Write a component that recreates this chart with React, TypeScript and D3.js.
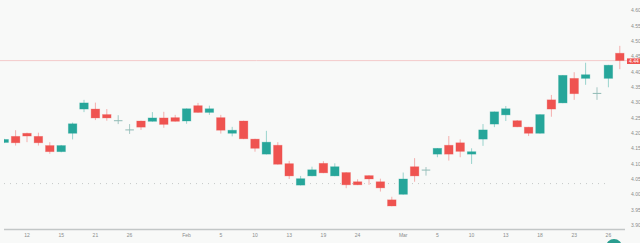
import React from "react";
import * as d3 from "d3";

// Daily sessions, Jan 8 – Mar 27
const dates = [
  "2026-01-08", "2026-01-09", "2026-01-12", "2026-01-13", "2026-01-14", "2026-01-15", "2026-01-16",
  "2026-01-20", "2026-01-21", "2026-01-22", "2026-01-23", "2026-01-26", "2026-01-27", "2026-01-28",
  "2026-01-29", "2026-01-30", "2026-02-02", "2026-02-03", "2026-02-04", "2026-02-05", "2026-02-06",
  "2026-02-09", "2026-02-10", "2026-02-11", "2026-02-12", "2026-02-13", "2026-02-17", "2026-02-18",
  "2026-02-19", "2026-02-20", "2026-02-23", "2026-02-24", "2026-02-25", "2026-02-26", "2026-02-27",
  "2026-03-02", "2026-03-03", "2026-03-04", "2026-03-05", "2026-03-06", "2026-03-09", "2026-03-10",
  "2026-03-11", "2026-03-12", "2026-03-13", "2026-03-16", "2026-03-17", "2026-03-18", "2026-03-19",
  "2026-03-20", "2026-03-23", "2026-03-24", "2026-03-25", "2026-03-26", "2026-03-27",
];

const opens = [
  4.170, 4.190, 4.200, 4.190, 4.160, 4.140, 4.200, 4.279, 4.279, 4.261, 4.241, 4.211, 4.240, 4.239,
  4.250, 4.251, 4.240, 4.290, 4.268, 4.251, 4.200, 4.240, 4.181, 4.132, 4.161, 4.101, 4.031, 4.061,
  4.102, 4.061, 4.072, 4.042, 4.062, 4.042, 3.983, 4.001, 4.091, 4.080, 4.132, 4.161, 4.169, 4.132,
  4.181, 4.230, 4.260, 4.241, 4.220, 4.200, 4.309, 4.299, 4.379, 4.379, 4.330, 4.379, 4.461,
];
const highs = [
  4.182, 4.210, 4.202, 4.202, 4.171, 4.162, 4.235, 4.309, 4.300, 4.279, 4.259, 4.230, 4.241, 4.269,
  4.270, 4.260, 4.281, 4.299, 4.290, 4.260, 4.221, 4.241, 4.182, 4.208, 4.171, 4.110, 4.061, 4.091,
  4.109, 4.102, 4.073, 4.050, 4.063, 4.052, 3.993, 4.072, 4.119, 4.090, 4.152, 4.191, 4.180, 4.151,
  4.230, 4.271, 4.289, 4.243, 4.221, 4.262, 4.325, 4.390, 4.399, 4.430, 4.350, 4.423, 4.485,
];
const lows = [
  4.168, 4.160, 4.171, 4.160, 4.133, 4.138, 4.180, 4.269, 4.243, 4.241, 4.230, 4.198, 4.211, 4.238,
  4.218, 4.238, 4.231, 4.267, 4.260, 4.199, 4.190, 4.181, 4.140, 4.131, 4.098, 4.051, 4.030, 4.060,
  4.070, 4.060, 4.021, 4.031, 4.032, 4.010, 3.962, 4.000, 4.042, 4.062, 4.122, 4.111, 4.122, 4.100,
  4.159, 4.220, 4.240, 4.220, 4.191, 4.199, 4.254, 4.298, 4.309, 4.358, 4.309, 4.350, 4.409,
];
const closes = [
  4.180, 4.169, 4.191, 4.169, 4.140, 4.160, 4.231, 4.299, 4.250, 4.250, 4.241, 4.211, 4.220, 4.250,
  4.229, 4.239, 4.280, 4.268, 4.280, 4.210, 4.210, 4.182, 4.151, 4.171, 4.099, 4.061, 4.052, 4.081,
  4.071, 4.091, 4.032, 4.032, 4.051, 4.022, 3.963, 4.051, 4.061, 4.080, 4.151, 4.132, 4.141, 4.140,
  4.211, 4.270, 4.280, 4.221, 4.200, 4.261, 4.279, 4.389, 4.329, 4.391, 4.330, 4.422, 4.437,
];

// Bottom axis labels: first session of a month shows the month name
const xTickDates = [
  "2026-01-12", "2026-01-15", "2026-01-21", "2026-01-26", "2026-02-02", "2026-02-05", "2026-02-10",
  "2026-02-13", "2026-02-19", "2026-02-24", "2026-03-02", "2026-03-05", "2026-03-10", "2026-03-13",
  "2026-03-18", "2026-03-23", "2026-03-26",
];
const xTickLabels = [
  "12", "15", "21", "26", "Feb", "5", "10", "13", "19", "24", "Mar", "5", "10", "13", "18", "23", "26",
];

const yTicks = [3.9, 3.95, 4.0, 4.05, 4.1, 4.15, 4.2, 4.25, 4.3, 4.35, 4.4, 4.45, 4.5, 4.55, 4.6];
const guideLevel = 4.036;

const W = 640;
const H = 243;
const UP = "#26a69a";
const DOWN = "#ef5350";
const FLAT = "#8fbab5";
const FONT = "'Liberation Sans', Arial, sans-serif";

export default function App() {
  const x = d3.scalePoint<string>().domain(dates).range([4.2, 619.8]).padding(0);
  const y = d3.scaleLinear().domain([3.9, 4.6]).range([225.3, 10.6]);
  const bodyW = x.step() * 0.75;
  const last = closes[closes.length - 1];
  const fmt = d3.format(".2f");

  return (
    <svg
      width={W}
      height={H}
      style={{ position: "absolute", left: 0, top: 0, background: "#f8f9f8" }}
    >
      <defs>
        <clipPath id="plot">
          <rect x={4} y={0} width={622} height={229} />
        </clipPath>
      </defs>
      <rect width={W} height={H} fill="#f8f9f8" />

      {/* dotted reference level */}
      <line
        x1={4}
        x2={606}
        y1={y(guideLevel)}
        y2={y(guideLevel)}
        stroke="#b9bdbd"
        strokeWidth={0.8}
        strokeDasharray="1 5"
      />

      {/* last price line */}
      <line x1={0} x2={627} y1={y(last)} y2={y(last)} stroke="#f3caca" strokeWidth={1} />

      <g clipPath="url(#plot)">
        {dates.map((d, i) => {
          const o = opens[i];
          const c = closes[i];
          const cx = x(d) as number;
          const flat = Math.abs(o - c) < 0.0005;
          const color = flat ? FLAT : c > o ? UP : DOWN;
          const top = y(Math.max(o, c));
          const bot = y(Math.min(o, c));
          return (
            <g key={d}>
              <line
                x1={cx}
                x2={cx}
                y1={y(highs[i])}
                y2={y(lows[i])}
                stroke={color}
                strokeOpacity={flat ? 0.8 : 0.45}
                strokeWidth={1}
              />
              {flat ? (
                <line
                  x1={cx - bodyW / 2}
                  x2={cx + bodyW / 2}
                  y1={top}
                  y2={top}
                  stroke={color}
                  strokeWidth={1}
                />
              ) : (
                <rect
                  x={cx - bodyW / 2}
                  y={top}
                  width={bodyW}
                  height={Math.max(1, bot - top)}
                  fill={color}
                  stroke={color}
                  strokeOpacity={0.35}
                  strokeWidth={0.8}
                />
              )}
            </g>
          );
        })}
      </g>

      {/* right price scale */}
      {yTicks.map((v) => (
        <text
          key={v}
          x={631}
          y={y(v) - (v === 4.45 ? 0.8 : 0)}
          dy="0.35em"
          fontSize={5}
          fill="#8a8d8d"
          fontFamily={FONT}
        >
          {fmt(v)}
        </text>
      ))}

      {/* last price badge */}
      <rect x={627} y={y(last) - 2.2} width={14} height={5.6} fill={DOWN} />
      <text
        x={629}
        y={y(last) + 0.6}
        dy="0.35em"
        fontSize={5}
        fill="#ffffff"
        fontFamily={FONT}
      >
        {fmt(last)}
      </text>

      {/* time axis */}
      <line x1={4} x2={625} y1={229.5} y2={229.5} stroke="#c3c7c7" strokeWidth={1.5} />
      {xTickDates.map((d, i) => (
        <text
          key={d}
          x={x(d) as number}
          y={235}
          dy="0.35em"
          textAnchor="middle"
          fontSize={5}
          fill="#8a8d8d"
          fontFamily={FONT}
        >
          {xTickLabels[i]}
        </text>
      ))}

      {/* corner button */}
      <circle cx={614} cy={247} r={8} fill="#2a9d8f" />
    </svg>
  );
}
